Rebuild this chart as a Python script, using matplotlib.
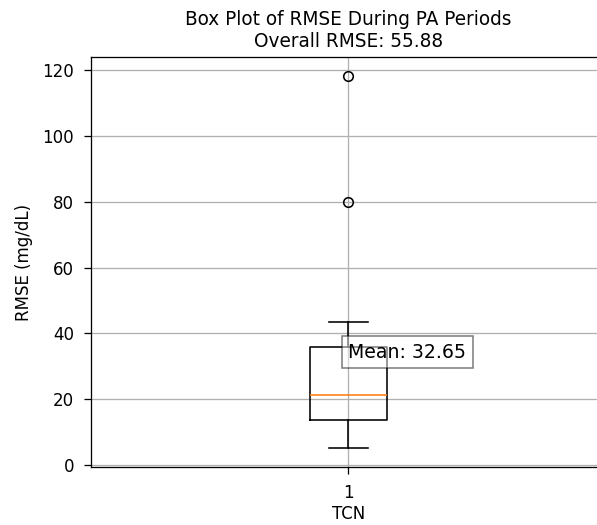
import matplotlib
matplotlib.use('Agg')
import matplotlib.pyplot as plt

# Box statistics (RMSE, mg/dL)
model_names = ["TCN"]
whisker_low = [5.1]
q1 = [13.6]
median = [21.4]
q3 = [35.9]
whisker_high = [43.6]
outliers = [[80.0, 118.3]]
mean_rmse = [32.65]
overall_rmse = 55.88

stats = []
for i in range(len(model_names)):
    stats.append({
        "whislo": whisker_low[i], "q1": q1[i], "med": median[i],
        "q3": q3[i], "whishi": whisker_high[i], "fliers": outliers[i],
        "label": str(i + 1),
    })

plt.rcParams['font.size'] = 10.4

dpi = 115
fig = plt.figure(figsize=(597 / dpi, 525 / dpi), dpi=dpi)
ax = fig.add_axes([90.5 / 597, 58 / 525, (606.1 - 90.5) / 597, (467 - 57) / 525])

ax.bxp(stats, widths=0.15)
ax.text(1, mean_rmse[0], f"Mean: {mean_rmse[0]:.2f}", fontsize=11.8,
        bbox=dict(boxstyle='square,pad=0.35', facecolor='white', alpha=0.5))

ax.set_title(f"Box Plot of RMSE During PA Periods\nOverall RMSE: {overall_rmse:.2f}",
             fontsize=11.6)
ax.set_xlabel(model_names[0], labelpad=1.5)
ax.set_ylabel("RMSE (mg/dL)", labelpad=5.5)
ax.tick_params(axis='both', length=4.6)
ax.tick_params(axis='x', pad=6.3)
ax.tick_params(axis='y', pad=5.8)
ax.grid(True)

fig.savefig("out.png", dpi=dpi)
